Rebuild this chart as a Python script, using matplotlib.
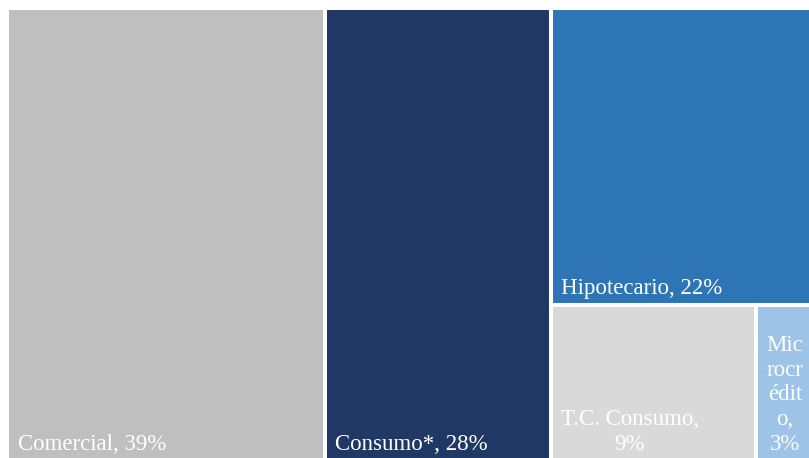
import matplotlib
matplotlib.use("Agg")
import matplotlib.pyplot as plt
from matplotlib.patches import Rectangle

W, H = 809, 458

# portfolio shares (%), labels are rounded from these
segments = ["Comercial", "Consumo*", "Hipotecario", "T.C. Consumo", "Microcrédito"]
shares = [39.45, 28.0, 21.6, 8.75, 2.51]
colors = ["#BFBFBF", "#1F3864", "#2E75B6", "#D9D9D9", "#9DC3E6"]
# where the label text breaks inside narrow tiles
wrapped = [
    "Comercial, {p}%",
    "Consumo*, {p}%",
    "Hipotecario, {p}%",
    "T.C. Consumo,\n{p}%",
    "Mic\nrocr\nédit\no,\n{p}%",
]

plt.rcParams["font.family"] = ["Liberation Serif", "DejaVu Serif"]

fig = plt.figure(figsize=(W / 100, H / 100), dpi=100)
# plot area runs a little past the right and bottom edges of the canvas
x0, x1, y0, y1 = 7.5, 815.5, 8.0, 460.5
ax = fig.add_axes([x0 / W, 1 - y1 / H, (x1 - x0) / W, (y1 - y0) / H])
ax.set_xlim(0, 1)
ax.set_ylim(1, 0)
ax.axis("off")

total = sum(shares)
frac = [s / total for s in shares]

# slice-and-dice: two full-height columns, then the remainder split
# into a top tile and a bottom row of two
c0 = frac[0]
c1 = frac[1]
rest = 1 - c0 - c1
hip_h = frac[2] / rest
tc_w = frac[3] / (frac[3] + frac[4])
boxes = [
    (0, 0, c0, 1),
    (c0, 0, c1, 1),
    (c0 + c1, 0, rest, hip_h),
    (c0 + c1, hip_h, rest * tc_w, 1 - hip_h),
    (c0 + c1 + rest * tc_w, hip_h, rest * (1 - tc_w), 1 - hip_h),
]

for (bx, by, bw, bh), col, tmpl, val in zip(boxes, colors, wrapped, shares):
    ax.add_patch(Rectangle((bx, by), bw, bh, facecolor=col,
                           edgecolor="white", linewidth=2.9))
    ax.annotate(tmpl.format(p=f"{val:.0f}"), xy=(bx, by + bh),
                xytext=(10, 6), textcoords="offset pixels",
                ha="left", va="bottom", multialignment="center",
                color="white", fontsize=16.5, linespacing=1.22)

fig.savefig("out.png", dpi=100, facecolor="white")
